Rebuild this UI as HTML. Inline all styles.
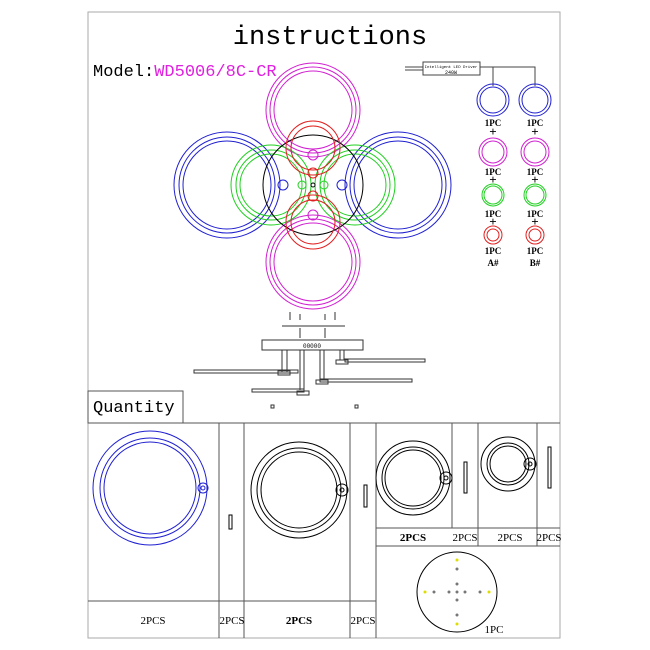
<!DOCTYPE html>
<html><head><style>
body{margin:0;background:#fff;}
svg{display:block;}
text{font-family:"Liberation Mono","Liberation Serif",monospace;}
.sf text,text.sf{font-family:"Liberation Serif",serif;}
</style></head><body>
<svg width="650" height="650" viewBox="0 0 650 650" xmlns="http://www.w3.org/2000/svg" fill="none" stroke-width="1">
<rect x="88" y="12" width="472" height="626" stroke="#aaa"/>
<text x="330" y="44" font-size="27" fill="#000" stroke="none" text-anchor="middle">instructions</text>
<text x="93" y="76" font-size="17" fill="#000" stroke="none">Model:<tspan fill="#e020e0">WD5006/8C-CR</tspan></text>
<g stroke="#d020d0"><circle cx="313" cy="110" r="47"/><circle cx="313" cy="110" r="43"/><circle cx="313" cy="110" r="39"/>
<circle cx="313" cy="262" r="47"/><circle cx="313" cy="262" r="43"/><circle cx="313" cy="262" r="39"/>
<circle cx="313" cy="155" r="5"/><circle cx="313" cy="215" r="5"/></g>
<g stroke="#2020d0"><circle cx="227" cy="185" r="53"/><circle cx="227" cy="185" r="48"/><circle cx="227" cy="185" r="44"/>
<circle cx="398" cy="185" r="53"/><circle cx="398" cy="185" r="48"/><circle cx="398" cy="185" r="44"/>
<circle cx="283" cy="185" r="5"/><circle cx="342" cy="185" r="5"/></g>
<g stroke="#20d020"><circle cx="271" cy="185" r="40"/><circle cx="271" cy="185" r="35"/><circle cx="271" cy="185" r="31"/>
<circle cx="355" cy="185" r="40"/><circle cx="355" cy="185" r="35"/><circle cx="355" cy="185" r="31"/>
<circle cx="302" cy="185" r="4"/><circle cx="324" cy="185" r="4"/></g>
<circle cx="313" cy="185" r="50" stroke="#000"/>
<g stroke="#e02020"><circle cx="313" cy="148" r="27"/><circle cx="313" cy="148" r="22"/><circle cx="313" cy="222" r="27"/><circle cx="313" cy="222" r="22"/>
<circle cx="313" cy="173" r="5"/><circle cx="313" cy="196" r="5"/></g>
<circle cx="313" cy="185" r="2" stroke="#000"/>
<path d="M405 67H423M405 70H423M480 67H535V86M493 67V86" stroke="#444"/>
<rect x="423" y="62" width="57" height="13" stroke="#444"/>
<text x="451" y="68" font-size="4" fill="#000" stroke="none" text-anchor="middle">Intelligent LED Driver</text>
<text x="451" y="74" font-size="5" fill="#000" stroke="none" text-anchor="middle">240W</text>
<g stroke="#2020d0"><circle cx="493" cy="100" r="16"/><circle cx="493" cy="100" r="13"/><circle cx="535" cy="100" r="16"/><circle cx="535" cy="100" r="13"/></g>
<g stroke="#d020d0"><circle cx="493" cy="152" r="14"/><circle cx="493" cy="152" r="11"/><circle cx="535" cy="152" r="14"/><circle cx="535" cy="152" r="11"/></g>
<g stroke="#20d020"><circle cx="493" cy="195" r="11"/><circle cx="493" cy="195" r="9"/><circle cx="535" cy="195" r="11"/><circle cx="535" cy="195" r="9"/></g>
<g stroke="#e02020"><circle cx="493" cy="235" r="9"/><circle cx="493" cy="235" r="6"/><circle cx="535" cy="235" r="9"/><circle cx="535" cy="235" r="6"/></g>
<g class="sf" fill="#000" stroke="none" font-size="9" font-weight="bold" text-anchor="middle">
<text x="493" y="126">1PC</text><text x="535" y="126">1PC</text><text x="493" y="136" font-size="13">+</text><text x="535" y="136" font-size="13">+</text>
<text x="493" y="175">1PC</text><text x="535" y="175">1PC</text><text x="493" y="184" font-size="13">+</text><text x="535" y="184" font-size="13">+</text>
<text x="493" y="217">1PC</text><text x="535" y="217">1PC</text><text x="493" y="226" font-size="13">+</text><text x="535" y="226" font-size="13">+</text>
<text x="493" y="254">1PC</text><text x="535" y="254">1PC</text><text x="493" y="266">A#</text><text x="535" y="266">B#</text></g>
<g stroke="#333">
<path d="M282 326H345M290 312V320M300 314V320M325 314V320M335 312V320M300 328V338M325 328V338"/>
<rect x="262" y="340" width="101" height="10"/>
<text x="312" y="348" font-size="6" fill="#000" stroke="none" text-anchor="middle">00000</text>
<path d="M282 350V372M287 350V372M300 350V390M304 350V390M320 350V380M324 350V380M340 350V360M344 350V360"/>
<rect x="194" y="370" width="104" height="3"/><rect x="278" y="371" width="12" height="4"/>
<rect x="252" y="389" width="52" height="3"/><rect x="297" y="391" width="12" height="4"/>
<rect x="320" y="379" width="92" height="3"/><rect x="316" y="380" width="12" height="4"/>
<rect x="345" y="359" width="80" height="3"/><rect x="336" y="360" width="12" height="4"/>
<rect x="271" y="405" width="3" height="3"/><rect x="355" y="405" width="3" height="3"/>
</g>
<g stroke="#555">
<rect x="88" y="391" width="95" height="32"/>
<path d="M88 423H560M219 423V638M244 423V638M350 423V638M376 423V638M452 423V528M478 423V546M537 423V546M376 528H560M376 546H560M88 601H376"/>
</g>
<text x="93" y="412" font-size="17" fill="#000" stroke="none">Quantity</text>
<g stroke="#2020d0"><circle cx="150" cy="488" r="57"/><circle cx="150" cy="488" r="50"/><circle cx="150" cy="488" r="46"/><circle cx="203" cy="488" r="5"/><circle cx="203" cy="488" r="2"/></g>
<g stroke="#000"><circle cx="299" cy="490" r="48"/><circle cx="299" cy="490" r="42"/><circle cx="299" cy="490" r="38"/><circle cx="342" cy="490" r="6"/><circle cx="342" cy="490" r="2"/>
<circle cx="413" cy="478" r="37"/><circle cx="413" cy="478" r="31"/><circle cx="413" cy="478" r="28"/><circle cx="446" cy="478" r="6"/><circle cx="446" cy="478" r="2"/>
<circle cx="508" cy="464" r="27"/><circle cx="508" cy="464" r="21"/><circle cx="508" cy="464" r="18"/><circle cx="530" cy="464" r="6"/><circle cx="530" cy="464" r="2"/>
<rect x="229" y="515" width="3" height="14"/><rect x="364" y="485" width="3" height="22"/><rect x="464" y="462" width="3" height="31"/><rect x="548" y="447" width="3" height="41"/>
<circle cx="457" cy="592" r="40"/></g>
<g fill="#777" stroke="none"><circle cx="457" cy="569" r="1.5"/><circle cx="457" cy="584" r="1.5"/><circle cx="457" cy="592" r="1.5"/><circle cx="457" cy="600" r="1.5"/><circle cx="457" cy="615" r="1.5"/><circle cx="434" cy="592" r="1.5"/><circle cx="449" cy="592" r="1.5"/><circle cx="465" cy="592" r="1.5"/><circle cx="480" cy="592" r="1.5"/></g>
<g fill="#dd0" stroke="none"><circle cx="457" cy="560" r="1.5"/><circle cx="457" cy="624" r="1.5"/><circle cx="425" cy="592" r="1.5"/><circle cx="489" cy="592" r="1.5"/></g>
<g class="sf" fill="#000" stroke="none" font-size="11" text-anchor="middle">
<text x="153" y="624">2PCS</text><text x="232" y="624">2PCS</text><text x="299" y="624" font-weight="bold">2PCS</text><text x="363" y="624">2PCS</text>
<text x="413" y="541" font-weight="bold">2PCS</text><text x="465" y="541">2PCS</text><text x="510" y="541">2PCS</text><text x="549" y="541">2PCS</text>
<text x="494" y="633">1PC</text></g>
</svg>
</body></html>
